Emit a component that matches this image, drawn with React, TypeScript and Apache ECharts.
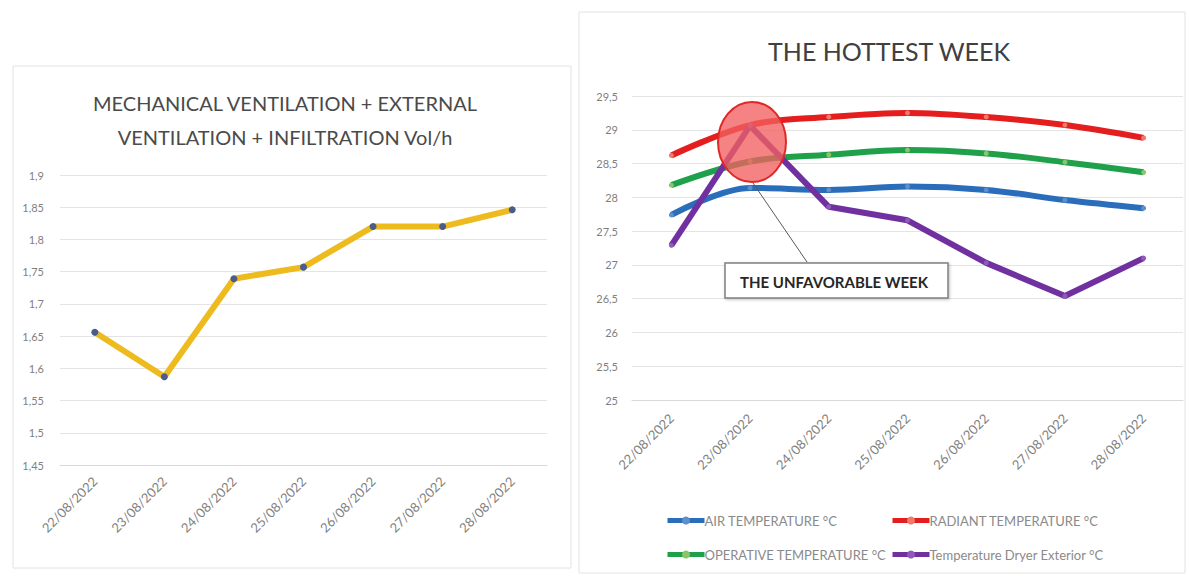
import React, { useEffect, useRef } from "react";
import * as echarts from "echarts";

const categories = ["22/08/2022", "23/08/2022", "24/08/2022", "25/08/2022", "26/08/2022", "27/08/2022", "28/08/2022"];
const ventilation = [1.656, 1.587, 1.739, 1.757, 1.82, 1.82, 1.846];
const airTemp = [27.74, 28.14, 28.11, 28.16, 28.11, 27.96, 27.84];
const radiantTemp = [28.62, 29.07, 29.19, 29.25, 29.19, 29.07, 28.88];
const operativeTemp = [28.18, 28.53, 28.63, 28.7, 28.65, 28.52, 28.37];
const dryerTemp = [27.29, 29.06, 27.86, 27.66, 27.03, 26.54, 27.1];
const seriesNames = ["AIR TEMPERATURE °C", "RADIANT TEMPERATURE °C", "OPERATIVE TEMPERATURE °C", "Temperature Dryer Exterior °C"];

const FONT = "Lato";
const fmt = (v: number) => String(parseFloat(v.toFixed(2))).replace(".", ",");

export default function App() {
  const ref = useRef<HTMLDivElement>(null);
  useEffect(() => {
    const chart = echarts.init(ref.current!, undefined, { renderer: "svg" });
    const axisLabel = { color: "#7f7f7f", fontSize: 11, fontFamily: FONT };
    const xAxisCommon = (gridIndex: number, margin: number) => ({
      type: "category",
      gridIndex,
      data: categories,
      boundaryGap: true,
      axisLine: { show: true, lineStyle: { color: "#d9d9d9" } },
      axisTick: { show: false },
      axisLabel: { ...axisLabel, fontSize: 13, rotate: 45, margin },
    });
    const legendItem = (name: string, left: number, top: number) => ({
      data: [name],
      left,
      top,
      itemWidth: 37,
      itemHeight: 10,
      itemGap: 0,
      lineStyle: { width: 5 },
      textStyle: { color: "#8a8a8a", fontSize: 13, fontFamily: FONT, padding: [0, 0, 0, -5] },
    });
    const tempSeries = (name: string, data: number[], color: string, marker: string, smooth: boolean) => ({
      type: "line",
      name,
      xAxisIndex: 1,
      yAxisIndex: 1,
      data,
      smooth: smooth ? 0.35 : false,
      symbol: "circle",
      symbolSize: 5,
      lineStyle: { width: 6, color },
      itemStyle: { color: marker, borderWidth: 0 },
    });
    chart.setOption({
      animation: false,
      backgroundColor: "#ffffff",
      grid: [
        { left: 60, top: 175, width: 487, height: 290 },
        { left: 632, top: 96, width: 551, height: 304 },
      ],
      xAxis: [xAxisCommon(0, 14), xAxisCommon(1, 16)],
      yAxis: [
        {
          type: "value",
          gridIndex: 0,
          min: 1.45,
          max: 1.9,
          interval: 0.05,
          axisLine: { show: false },
          axisTick: { show: false },
          splitLine: { lineStyle: { color: "#e4e4e4" } },
          axisLabel: { ...axisLabel, margin: 16, formatter: fmt },
        },
        {
          type: "value",
          gridIndex: 1,
          min: 25,
          max: 29.5,
          interval: 0.5,
          axisLine: { show: false },
          axisTick: { show: false },
          splitLine: { lineStyle: { color: "#e4e4e4" } },
          axisLabel: { ...axisLabel, margin: 14, formatter: fmt },
        },
      ],
      legend: [
        legendItem(seriesNames[0], 660, 509),
        legendItem(seriesNames[1], 885, 509),
        legendItem(seriesNames[2], 660, 543),
        legendItem(seriesNames[3], 885, 543),
      ],
      series: [
        {
          type: "line",
          name: "Vol/h",
          xAxisIndex: 0,
          yAxisIndex: 0,
          data: ventilation,
          symbol: "circle",
          symbolSize: 7,
          lineStyle: { width: 6, color: "#EDBB1E" },
          itemStyle: { color: "#4A5C8C", borderWidth: 0 },
        },
        tempSeries(seriesNames[0], airTemp, "#2A6EBB", "#5E8FCB", true),
        tempSeries(seriesNames[1], radiantTemp, "#E41E1E", "#EE7A6A", true),
        tempSeries(seriesNames[2], operativeTemp, "#1FA04A", "#8CC46A", true),
        tempSeries(seriesNames[3], dryerTemp, "#7030A0", "#8E5CB8", false),
      ],
      graphic: [
        {
          type: "rect",
          z: -10,
          shape: { x: 13, y: 66, width: 558, height: 502 },
          style: { fill: "none", stroke: "#e2e2e2", lineWidth: 1 },
        },
        {
          type: "rect",
          z: -10,
          shape: { x: 579, y: 12, width: 606, height: 561 },
          style: { fill: "none", stroke: "#e2e2e2", lineWidth: 1 },
        },
        {
          type: "text",
          x: 285,
          y: 120,
          style: {
            text: "MECHANICAL VENTILATION + EXTERNAL\nVENTILATION + INFILTRATION Vol/h",
            fill: "#4a4a4a",
            font: `20px ${FONT}`,
            lineHeight: 34,
            textAlign: "center",
            textVerticalAlign: "middle",
          },
        },
        {
          type: "text",
          x: 889,
          y: 51,
          style: {
            text: "THE HOTTEST WEEK",
            fill: "#404040",
            font: `25px ${FONT}`,
            textAlign: "center",
            textVerticalAlign: "middle",
          },
        },
        {
          type: "ellipse",
          z: 100,
          shape: { cx: 752, cy: 142, rx: 34, ry: 40 },
          style: { fill: "rgba(242,96,96,0.78)", stroke: "#E02828", lineWidth: 2 },
        },
        {
          type: "line",
          z: 100,
          shape: { x1: 753, y1: 183, x2: 807, y2: 262 },
          style: { stroke: "#595959", lineWidth: 1 },
        },
        {
          type: "rect",
          z: 100,
          shape: { x: 725, y: 263, width: 223, height: 35 },
          style: {
            fill: "#ffffff",
            stroke: "#808080",
            lineWidth: 1.5,
            shadowBlur: 3,
            shadowColor: "rgba(0,0,0,0.25)",
            shadowOffsetX: 1,
            shadowOffsetY: 1,
          },
        },
        {
          type: "text",
          z: 101,
          x: 834,
          y: 282,
          style: {
            text: "THE UNFAVORABLE WEEK",
            fill: "#262626",
            font: `bold 15px ${FONT}`,
            textAlign: "center",
            textVerticalAlign: "middle",
          },
        },
      ],
    });
    return () => chart.dispose();
  }, []);
  return (
    <div
      ref={ref}
      style={{ position: "fixed", left: 0, top: 0, width: 1189, height: 576, background: "#fff" }}
    />
  );
}
